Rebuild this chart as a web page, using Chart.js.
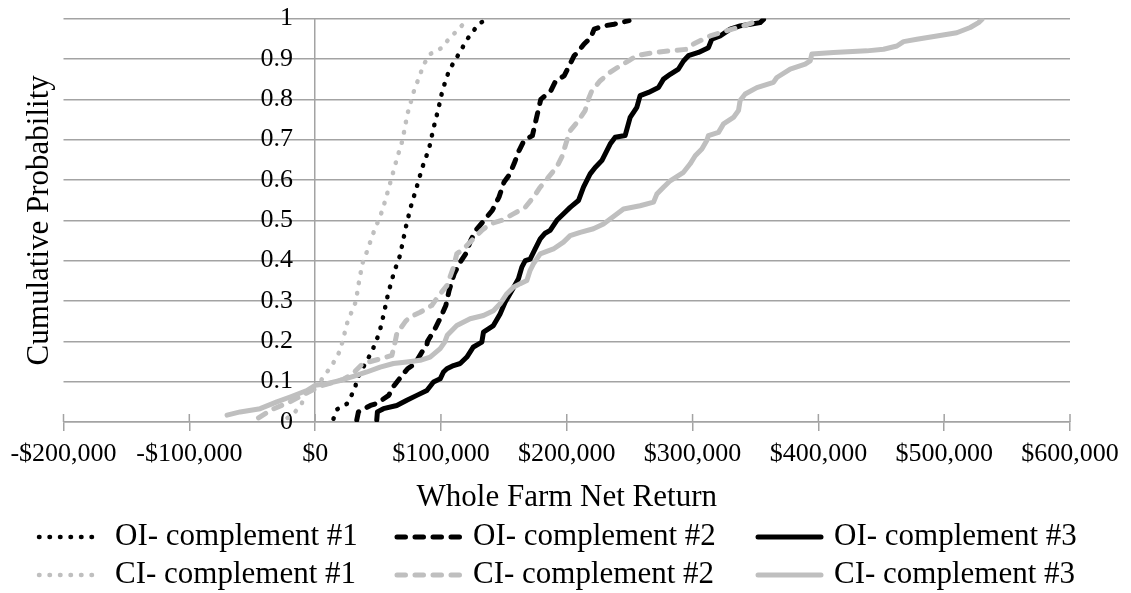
<!DOCTYPE html>
<html>
<head>
<meta charset="utf-8">
<script src="https://cdn.jsdelivr.net/npm/chart.js@4/dist/chart.umd.min.js"></script>
<style>
  html, body { margin: 0; padding: 0; background: #ffffff; }
  #wrap { width: 1131px; height: 593px; position: relative; }
</style>
</head>
<body>
<div id="wrap"><canvas id="cdf" width="1131" height="593"></canvas></div>
<script>
// Cumulative distributions of whole farm net return (dollars) for each scenario.
const seriesLabels = [
  'OI- complement #1', 'OI- complement #2', 'OI- complement #3',
  'CI- complement #1', 'CI- complement #2', 'CI- complement #3'
];

const oi1Return = [14600, 17200, 25200, 31800, 33100, 37100, 41100, 45100, 47700, 50900, 54300, 58000, 62800, 67500, 72100, 76000, 80800, 85300, 90600, 94000, 97700, 101200, 106500, 113600, 121100, 130300, 138300];
const oi1Prob = [0.008, 0.031, 0.045, 0.083, 0.107, 0.128, 0.153, 0.173, 0.196, 0.219, 0.264, 0.318, 0.372, 0.413, 0.483, 0.533, 0.583, 0.632, 0.678, 0.727, 0.773, 0.822, 0.872, 0.909, 0.95, 0.988, 1.0];

const oi2Return = [33100, 34400, 44000, 49000, 58500, 62000, 68000, 73500, 79500, 84800, 88800, 89300, 94600, 99900, 103900, 106500, 110500, 114500, 119700, 123700, 127700, 134300, 140900, 146200, 150200, 154200, 158100, 162100, 166100, 172700, 176700, 179400, 187300, 191300, 197900, 201900, 205900, 208500, 213800, 219100, 221800, 229700, 237600, 249500];
const oi2Prob = [0.005, 0.025, 0.041, 0.046, 0.066, 0.087, 0.111, 0.132, 0.145, 0.173, 0.19, 0.2, 0.227, 0.26, 0.289, 0.326, 0.367, 0.392, 0.417, 0.45, 0.475, 0.5, 0.525, 0.558, 0.595, 0.612, 0.64, 0.673, 0.698, 0.71, 0.764, 0.8, 0.821, 0.846, 0.858, 0.883, 0.908, 0.916, 0.937, 0.953, 0.974, 0.982, 0.986, 0.995];

const oi3Return = [49000, 49500, 54300, 64900, 72900, 80800, 88800, 94100, 99400, 102000, 104700, 110000, 115300, 120600, 125800, 132500, 133800, 141700, 147000, 151000, 156400, 161600, 164300, 167000, 170900, 174900, 178900, 182800, 186800, 192100, 198700, 202700, 209300, 213300, 218600, 222600, 227900, 234500, 238500, 246400, 250400, 255700, 258300, 265000, 272900, 276900, 282200, 288800, 292800, 296700, 304700, 312600, 315300, 321900, 329900, 337800, 345800, 353700, 356400];
const oi3Prob = [0.005, 0.025, 0.033, 0.041, 0.054, 0.066, 0.078, 0.099, 0.107, 0.124, 0.132, 0.14, 0.145, 0.161, 0.186, 0.198, 0.223, 0.239, 0.268, 0.297, 0.326, 0.355, 0.384, 0.4, 0.404, 0.429, 0.454, 0.468, 0.475, 0.5, 0.52, 0.532, 0.549, 0.582, 0.615, 0.631, 0.648, 0.689, 0.706, 0.71, 0.755, 0.78, 0.809, 0.817, 0.829, 0.85, 0.862, 0.875, 0.895, 0.908, 0.916, 0.928, 0.949, 0.957, 0.974, 0.982, 0.986, 0.99, 0.998];

const ci1Return = [-22000, -15900, -10600, -7900, 4000, 8500, 13300, 19900, 23000, 25700, 32300, 35000, 37600, 41600, 45600, 53500, 58800, 65400, 69400, 73400, 78700, 86600, 91900, 99900, 106500, 113100, 121900];
const ci1Prob = [0.01, 0.025, 0.046, 0.071, 0.1, 0.12, 0.14, 0.177, 0.215, 0.248, 0.298, 0.35, 0.393, 0.426, 0.463, 0.525, 0.583, 0.657, 0.698, 0.764, 0.822, 0.888, 0.913, 0.926, 0.95, 0.971, 1.0];

const ci2Return = [-45000, -35000, -20000, -8000, 5000, 22000, 30000, 38000, 50000, 61000, 63000, 65000, 72000, 75500, 83500, 92700, 99400, 104700, 110000, 112600, 117900, 125800, 132500, 139100, 148400, 157600, 166900, 173500, 178900, 185500, 192100, 196100, 200100, 202700, 209300, 214600, 217300, 219900, 226600, 234500, 242400, 249100, 255700, 269000, 282200, 295400, 300700, 314000, 327300, 340500, 352000];
const ci2Prob = [0.01, 0.03, 0.05, 0.07, 0.09, 0.105, 0.12, 0.145, 0.155, 0.165, 0.19, 0.22, 0.25, 0.26, 0.272, 0.289, 0.318, 0.338, 0.384, 0.417, 0.429, 0.454, 0.475, 0.491, 0.5, 0.516, 0.532, 0.557, 0.582, 0.607, 0.632, 0.657, 0.698, 0.722, 0.747, 0.772, 0.801, 0.821, 0.846, 0.867, 0.883, 0.895, 0.908, 0.916, 0.92, 0.924, 0.937, 0.957, 0.97, 0.982, 0.995];

const ci3Return = [-70000, -59600, -43700, -30400, -19900, -6600, 0, 9300, 19900, 30400, 41100, 51700, 62200, 72900, 83500, 91400, 99400, 103000, 105000, 112600, 123200, 133800, 141700, 147000, 152400, 157600, 163000, 168300, 170900, 173500, 178900, 189400, 197400, 202700, 210700, 221200, 229200, 234500, 245100, 258300, 269000, 271600, 276900, 282200, 292800, 298100, 302100, 307400, 311300, 312600, 320600, 324600, 332500, 336500, 337800, 341800, 351100, 364300, 367000, 377600, 389500, 393500, 394800, 412000, 438500, 451800, 462400, 467700, 478300, 494200, 510000, 520700, 527300, 530000];
const ci3Prob = [0.017, 0.025, 0.033, 0.05, 0.062, 0.078, 0.091, 0.095, 0.103, 0.113, 0.124, 0.136, 0.145, 0.149, 0.153, 0.161, 0.182, 0.198, 0.215, 0.239, 0.256, 0.264, 0.276, 0.293, 0.318, 0.334, 0.343, 0.351, 0.376, 0.392, 0.417, 0.429, 0.446, 0.462, 0.47, 0.479, 0.491, 0.503, 0.528, 0.536, 0.545, 0.565, 0.582, 0.598, 0.619, 0.64, 0.66, 0.677, 0.698, 0.71, 0.718, 0.739, 0.755, 0.772, 0.797, 0.813, 0.829, 0.842, 0.854, 0.875, 0.887, 0.895, 0.912, 0.916, 0.92, 0.924, 0.932, 0.943, 0.949, 0.957, 0.965, 0.978, 0.99, 0.998];

const xAxisTitle = 'Whole Farm Net Return';
const yAxisTitle = 'Cumulative Probability';

// ---- styling ----
const FONT = '"Liberation Serif", "Times New Roman", Times, serif';
const TEXT = '#000000';
const GRID = '#a3a3a3';
const BLACK = '#000000';
const LIGHT = '#bfbfbf';
const DOT = [0.5, 10];
const DASH = [8.5, 9.5];
// probability labels sit a little to the left of the $0 line
const Y_LABEL_ANCHOR = -17500;

function pairUp(xs, ps) {
  return xs.map((x, i) => ({ x: x, y: ps[i] }));
}

function makeSeries(label, xs, ps, color, dash, width, order) {
  return {
    label: label,
    data: pairUp(xs, ps),
    borderColor: color,
    backgroundColor: color,
    borderWidth: width,
    borderDash: dash,
    borderCapStyle: 'round',
    borderJoinStyle: 'round',
    pointRadius: 0,
    pointHoverRadius: 0,
    tension: 0,
    fill: false,
    showLine: true,
    order: order
  };
}

const datasets = [
  makeSeries(seriesLabels[0], oi1Return, oi1Prob, BLACK, DOT, 4.5, 1),
  makeSeries(seriesLabels[1], oi2Return, oi2Prob, BLACK, DASH, 5, 1),
  makeSeries(seriesLabels[2], oi3Return, oi3Prob, BLACK, [], 5, 1),
  makeSeries(seriesLabels[3], ci1Return, ci1Prob, LIGHT, DOT, 4.5, 0),
  makeSeries(seriesLabels[4], ci2Return, ci2Prob, LIGHT, DASH, 5, 0),
  makeSeries(seriesLabels[5], ci3Return, ci3Prob, LIGHT, [], 5, 0)
];

function money(v) {
  const s = '$' + Math.abs(v).toLocaleString('en-US');
  return v < 0 ? '-' + s : s;
}

// Short tick marks that cross the horizontal axis line (upper half).
const crossTicks = {
  id: 'crossTicks',
  beforeDatasetsDraw(chart) {
    const ctx = chart.ctx;
    const xs = chart.scales.x;
    const yb = chart.chartArea.bottom;
    ctx.save();
    ctx.strokeStyle = GRID;
    ctx.lineWidth = 1.5;
    ctx.beginPath();
    xs.ticks.forEach(t => {
      const px = xs.getPixelForValue(t.value);
      ctx.moveTo(px, yb - 8);
      ctx.lineTo(px, yb);
    });
    ctx.stroke();
    ctx.restore();
  }
};

// Two-row legend laid out in three columns under the axis title.
const gridLegend = {
  id: 'gridLegend',
  afterDraw(chart) {
    const ctx = chart.ctx;
    const cols = [37, 395, 756];
    const rows = [537, 575];
    chart.data.datasets.forEach((ds, i) => {
      const x = cols[i % 3];
      const y = rows[Math.floor(i / 3)];
      ctx.save();
      ctx.strokeStyle = ds.borderColor;
      ctx.lineWidth = ds.borderWidth;
      ctx.lineCap = ds.borderCapStyle;
      ctx.setLineDash(ds.borderDash || []);
      ctx.beginPath();
      ctx.moveTo(x + 2, y);
      ctx.lineTo(x + 65, y);
      ctx.stroke();
      ctx.setLineDash([]);
      ctx.fillStyle = TEXT;
      ctx.font = '31px ' + FONT;
      ctx.textAlign = 'left';
      ctx.textBaseline = 'middle';
      ctx.fillText(ds.label, x + 78, y);
      ctx.restore();
    });
  }
};

new Chart(document.getElementById('cdf'), {
  type: 'line',
  data: { datasets: datasets },
  plugins: [crossTicks, gridLegend],
  options: {
    responsive: false,
    animation: false,
    devicePixelRatio: 1,
    layout: { padding: { left: 21, right: 61, top: 0, bottom: 77 } },
    plugins: {
      legend: { display: false },
      tooltip: { enabled: false }
    },
    scales: {
      x: {
        type: 'linear',
        min: -200000,
        max: 600000,
        ticks: {
          stepSize: 100000,
          autoSkip: false,
          maxRotation: 0,
          padding: 8,
          color: TEXT,
          font: { family: FONT, size: 26 },
          callback: v => money(v)
        },
        grid: {
          drawOnChartArea: true,
          drawTicks: true,
          tickLength: 9,
          lineWidth: 1.5,
          tickColor: GRID,
          // only the $0 line is drawn across the plot, as the vertical axis
          color: c => (c.tick && c.tick.value === 0 ? GRID : 'rgba(0,0,0,0)')
        },
        border: { display: true, color: GRID, width: 1.5 },
        title: {
          display: true,
          text: xAxisTitle,
          color: TEXT,
          padding: 0,
          font: { family: FONT, size: 31 }
        },
        afterFit: s => { s.height = 94; }
      },
      y: {
        type: 'linear',
        axis: 'y',
        min: 0,
        max: 1,
        position: { x: Y_LABEL_ANCHOR },
        ticks: {
          stepSize: 0.1,
          color: TEXT,
          font: { family: FONT, size: 26 },
          callback: v => String(Math.round(v * 10) / 10)
        },
        grid: { color: GRID, lineWidth: 1.5, drawTicks: false },
        border: { display: false }
      },
      yTitle: {
        type: 'linear',
        axis: 'y',
        position: 'left',
        min: 0,
        max: 1,
        ticks: { display: false },
        grid: { display: false },
        border: { display: false },
        title: {
          display: true,
          text: yAxisTitle,
          color: TEXT,
          padding: 0,
          font: { family: FONT, size: 31 }
        },
        afterFit: s => { s.width = 42.5; }
      }
    }
  }
});
</script>
</body>
</html>
